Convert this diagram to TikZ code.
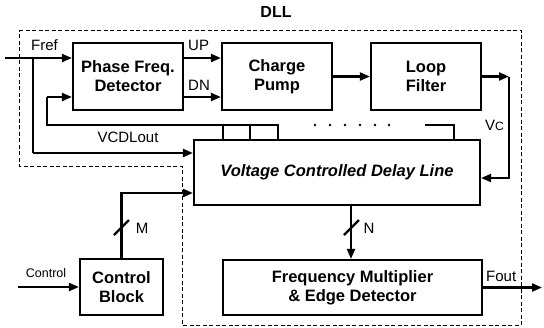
\documentclass[tikz,border=0pt]{standalone}
\usepackage{fontspec}
\setmainfont{Liberation Sans}
\usetikzlibrary{arrows.meta}

\begin{document}
\begin{tikzpicture}[
  x=1pt, y=-1pt,
  blk/.style={draw, line width=2.2pt, align=center, font=\fontsize{16.5}{19}\selectfont\bfseries, inner sep=0pt},
  sig/.style={line width=2.2pt, -{Triangle[length=10pt,width=8pt]}},
  wire/.style={line width=2.2pt},
  lbl/.style={font=\fontsize{15}{17}\selectfont, inner sep=1pt}
]
  \useasboundingbox (0,0) rectangle (544,327);

  %--- DLL boundary ---
  \draw[dash pattern=on 4pt off 2.5pt, line width=1pt] (19,30) -- (521,30) -- (521,325) -- (182,325)
    -- (182,166) -- (19,166) -- cycle;
  \node[font=\fontsize{16}{18}\selectfont\bfseries] (dll) at (276,12) {DLL};

  %--- Blocks ---
  \node[blk, minimum width=110, minimum height=67] (pfd) at (128,76.5) {Phase Freq.\\Detector};
  \node[blk, minimum width=110, minimum height=67] (cp) at (277,76.5) {Charge\\Pump};
  \node[blk, minimum width=110, minimum height=67] (lf) at (426,76.5) {Loop\\Filter};
  \node[blk, minimum width=286, minimum height=65, font=\fontsize{16.5}{19}\selectfont\bfseries\itshape]
    (vcdl) at (337,172.5) {Voltage Controlled Delay Line};
  \node[blk, minimum width=83, minimum height=56] (cb) at (121.5,287) {Control\\Block};
  \node[blk, minimum width=259, minimum height=55] (fm) at (352.5,287.5)
    {Frequency Multiplier\\\& Edge Detector};

  %--- Helper points ---
  \coordinate (frefin) at (5,58);
  \coordinate (split) at (33,58);
  \coordinate (dlyin) at (33,153);
  \coordinate (up) at (0,58);
  \coordinate (dn) at (0,97);
  \coordinate (fbl) at (47,125);
  \coordinate (fbu) at (47,97);
  \coordinate (vcc) at (509,76.5);
  \coordinate (vcin) at (509,178);
  \coordinate (mbus) at (0,193);
  \coordinate (nbus) at (351,0);
  \coordinate (ctrlin) at (18,287);
  \coordinate (foutend) at (542,287.5);

  % Reference path
  \draw[sig] (frefin) -- (pfd.west |- frefin);
  \draw[wire] (split) -- (dlyin);
  \draw[sig] (dlyin) -- (vcdl.west |- dlyin);
  \node[lbl, anchor=south west] (fref) at (30,52) {Fref};

  % PFD to charge pump
  \draw[sig] (pfd.east |- up) -- (cp.west |- up);
  \draw[sig] (pfd.east |- dn) -- (cp.west |- dn);
  \node[lbl, anchor=south west] (uplbl) at (187,52) {UP};
  \node[lbl, anchor=south west] (dnlbl) at (187,92) {DN};

  % Charge pump to loop filter, control voltage
  \draw[sig] (cp.east) -- (lf.west);
  \draw[sig] (lf.east) -- (vcc);
  \draw[sig] (vcc) -- (vcin) -- (vcdl.east |- vcin);
  \node[lbl, anchor=west] (vclbl) at (484,125) {V\fontsize{12}{14}\selectfont C};

  % Feedback from delay taps
  \draw[wire] (278,125) -- (fbl) -- (fbu);
  \draw[sig] (fbu) -- (pfd.west |- fbu);
  \draw[wire] (223,125) rectangle (250,140);
  \draw[wire] (250,125) rectangle (278,140);
  \fill (315,125) circle (1.4) (330,125) circle (1.4) (345,125) circle (1.4)
        (360,125) circle (1.4) (375,125) circle (1.4) (389,125) circle (1.4);
  \draw[wire] (425,125) -- (454,125) -- (454,140);
  \node[lbl] (fblbl) at (128,137) {VCDLout};

  % Control block
  \draw[sig] (ctrlin) -- (cb.west);
  \node[font=\fontsize{12.5}{14}\selectfont] (ctrllbl) at (46,273) {Control};
  \draw[sig] (cb.north) |- (vcdl.west |- mbus);
  \draw[wire] (114,235) -- (129,220);
  \node[lbl] (mlbl) at (142,228) {M};

  % Delay line to multiplier
  \draw[sig] (vcdl.south -| nbus) -- (fm.north -| nbus);
  \draw[wire] (344,235) -- (359,220);
  \node[lbl] (nlbl) at (369,228) {N};

  % Output
  \draw[sig] (fm.east) -- (foutend);
  \node[lbl, anchor=south west] (foutlbl) at (485,283) {Fout};
\end{tikzpicture}
\end{document}
